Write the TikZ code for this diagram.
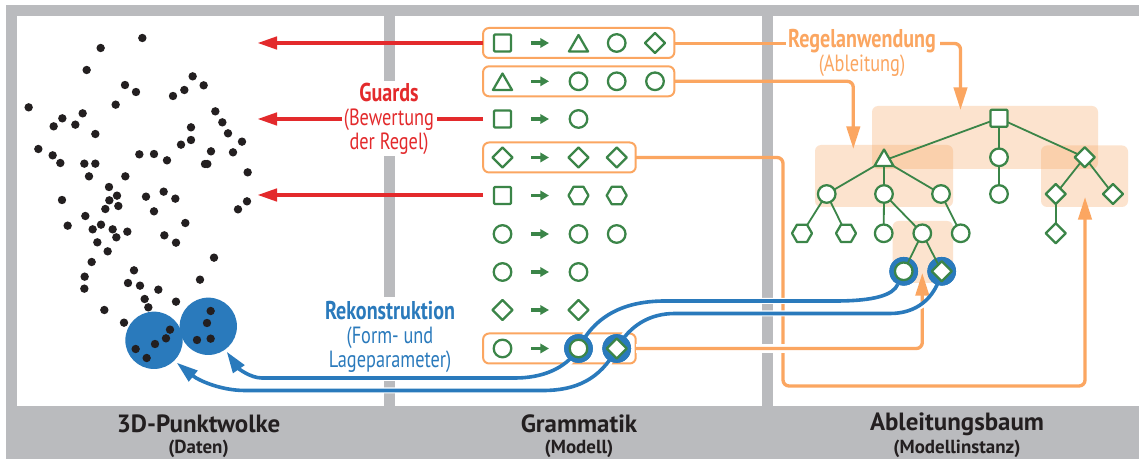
\documentclass[tikz,border=0pt]{standalone}
\usepackage{fontspec}
\usetikzlibrary{shapes.geometric,arrows.meta}
\setmainfont{PT Sans}
\newfontfamily\condf[FakeStretch=0.78]{PT Sans}
\definecolor{frameg}{HTML}{BABBBE}
\definecolor{peach}{HTML}{F7A560}
\definecolor{orangeL}{HTML}{FBA661}
\definecolor{redL}{HTML}{E32A2C}
\definecolor{blueL}{HTML}{2A7ABC}
\definecolor{greenL}{HTML}{3B8548}
\definecolor{inkD}{HTML}{231F20}
\tikzset{
  every node/.style={inner sep=0pt,outer sep=0pt},
  panel/.style={fill=white,draw=none},
  peachbox/.style={fill=peach,fill opacity=0.3,draw=none,rounded corners=4.5pt},
  gshape/.style={draw=greenL,line width=1.7pt,fill=white,line join=round},
  csq/.style={gshape,rectangle,rounded corners=0.8pt,minimum size=12.8pt},
  cci/.style={gshape,circle,minimum size=13.2pt},
  cdi/.style={gshape,diamond,minimum size=15pt},
  ctr/.style={gshape,regular polygon,regular polygon sides=3,minimum size=16.5pt},
  chx/.style={gshape,regular polygon,regular polygon sides=6,minimum size=15pt},
  rulebox/.style={draw=orangeL,line width=1.5pt,rounded corners=4.5pt,fill=white,minimum height=22.5pt},
  redarrow/.style={draw=redL,line width=3.2pt,-{Triangle[length=15pt,width=9pt,fill=redL]}},
  redline/.style={draw=redL,line width=3.2pt},
  orangearrow/.style={draw=orangeL,line width=2.5pt,rounded corners=4.5pt,-{Triangle[length=17pt,width=10pt,fill=orangeL]}},
  orangeline/.style={draw=orangeL,line width=2.5pt},
  bluearrow/.style={draw=blueL,line width=2.7pt,-{Triangle[length=16pt,width=10pt,fill=blueL]}},
  blueline/.style={draw=blueL,line width=2.7pt},
  halo/.style={draw=white,line width=4.5pt},
  ring/.style={circle,fill=blueL,minimum size=21.5pt},
  blob/.style={circle,fill=blueL,minimum size=43pt},
  dot/.style={circle,fill=inkD,minimum size=6.3pt},
  edge/.style={draw=greenL,line width=1.35pt},
  ruleto/.style={draw=greenL,line width=2.4pt,-{Triangle[length=6.5pt,width=7pt,fill=greenL]}},
  headtxt/.style={font=\fontsize{18.7}{20}\selectfont\bfseries,text=inkD,anchor=center},
  subtxt/.style={font=\fontsize{14.2}{16}\selectfont\bfseries,text=inkD,anchor=center},
}
\begin{document}
\begin{tikzpicture}[x=0.75pt,y=-0.75pt]
\useasboundingbox (0,0) rectangle (1139,459);
% frame and panels
\fill[white] (0,0) rectangle (1139,459);
\fill[frameg] (6,5) rectangle (1139,459);
\fill[panel] (17,16) rectangle (384,406);
\fill[panel] (395,16) rectangle (762,406);
\fill[panel] (773,16) rectangle (1139,406);
\fill[panel] (383,81) rectangle (396,156);
\fill[panel] (383,297) rectangle (396,380);
% peach areas
\fill[peachbox] (872,106) rectangle (1098,169);
\fill[peachbox] (815,145) rectangle (953,207);
\fill[peachbox] (1041,145.5) rectangle (1128,207);
\fill[peachbox] (892.5,221) rectangle (953,283);
% captions
\node[headtxt] (t1) at (198.5,424) {3D-Punktwolke};
\node[subtxt] (s1) at (198.5,449) {(Daten)};
\node[headtxt] (t2) at (579,424) {Grammatik};
\node[subtxt] (s2) at (579,449) {(Modell)};
\node[headtxt] (t3) at (957,424) {Ableitungsbaum};
\node[subtxt] (s3) at (957,449) {(Modellinstanz)};
% rule boxes
\node[rulebox,minimum width=143.5pt] (b1) at (578.7,43) {};
\node[rulebox,minimum width=143.5pt] (b2) at (578.7,81.3) {};
\node[rulebox,minimum width=114.5pt] (b4) at (559.4,157.5) {};
\node[rulebox,minimum width=114.5pt] (b9) at (559.4,348.5) {};
% labels
\node[text=redL,align=center,font=\fontsize{17.6}{18}\selectfont\condf] (guards) at (389,119) {{\fontsize{19.3}{18}\selectfont\bfseries Guards}\\(Bewertung\\der Regel)};
\node[text=blueL,align=center,font=\fontsize{17.6}{18}\selectfont\condf] (rekon) at (390,336.5) {{\fontsize{19.3}{18}\selectfont\bfseries Rekonstruktion}\\(Form- und\\Lageparameter)};
\node[text=orangeL,align=center,font=\fontsize{17.6}{18}\selectfont\condf] (regel) at (862,53) {{\fontsize{19.3}{18}\selectfont\bfseries Regelanwendung}\\(Ableitung)};
% free ends
\coordinate (rt1) at (257,43);
\coordinate (rt2) at (257,119);
\coordinate (rt3) at (257,195);
\coordinate (rs3) at (483,195);
\coordinate (rs2) at (483,119);
\coordinate (rm2a) at (342,119);
\coordinate (rm2b) at (437,119);
\coordinate (olA) at (786,43.5);
\coordinate (olB) at (940,43.5);
\coordinate (otip1) at (960.5,110);
\coordinate (otip2) at (853.3,149);
\coordinate (otip3) at (1085,197);
\coordinate (otip4) at (922.3,273);
% red arrows
\draw[redarrow] (b1.west) -- (rt1);
\draw[redarrow] (rm2a) -- (rt2);
\draw[redline] (rs2) -- (rm2b);
\draw[redarrow] (rs3) -- (rt3);
% orange links
\draw[orangeline] (b1.east |- 0,43.5) -- (olA);
\draw[orangearrow] (olB) -- (olB -| otip1) -- (otip1);
\draw[orangearrow] (b2.east) -- (otip2 |- b2.east) -- (otip2);
\draw[orangearrow] (b4.east) -- (783,157.5) -- (783,386) -- (1085,386) -- (otip3);
\draw[white,line width=6.8pt] (b9.east) -- (915,348.5);
\draw[orangearrow] (b9.east) -- (otip4 |- b9.east) -- (otip4);
% dots
\foreach \i/\zx/\zy in {1/427/114,2/302/144,3/260/210,4/375/255,5/408/276,6/347/314,7/86/322,8/248/340,9/187/355,10/161/379,11/226/374,12/286/402,13/115/447,14/158/466,15/181/489,16/253/491,17/286/491,18/267/529,19/376/529,20/418/463,21/462/462,22/501/481,23/543/434,24/573/420,25/573/382,26/519/288,27/553/270,28/578/229,29/611/256,30/646/334,31/667/367,32/684/400,33/726/425,34/699/457,35/633/454,36/615/492,37/622/492,38/743/517,39/741/604,40/714/628,41/327/561,42/351/587,43/328/601,44/355/618,45/316/627,46/186/600,47/256/648,48/203/677,49/303/674,50/338/688,51/382/695,52/278/688,53/438/590,54/491/575,55/526/596,56/462/634,57/556/669,58/292/727,59/349/712,60/323/754,61/493/706,62/528/728,63/642/773,64/275/786,65/402/811,66/254/830,67/253/866,68/384/849,69/420/857,70/475/869,71/600/839,72/434/897,73/445/922,74/528/905,75/313/930,76/372/968}
  {\node[dot] (d\i) at ({\zx/3},{\zy/3}) {};}
% blobs
\node[blob] (blobA) at (154,340.3) {};
\node[blob] (blobB) at (208.3,326.3) {};
\foreach \i/\zx/\zy in {77/632/243,78/621/279,79/591/330,80/632/326,81/510/299,82/498/325,83/465/342,84/407/357,85/440/384}
  {\node[dot] (d\i) at ({\zx/3},{230+\zy/3}) {};}
\coordinate (btipB) at (226.7,351.7);
\coordinate (btipA) at (176.7,362.7);
% rings
\node[ring] (rgA) at (578.5,348.5) {};
\node[ring] (rgB) at (616.7,348.5) {};
\node[ring] (rtA) at (903.7,271.3) {};
\node[ring] (rtB) at (941.7,271.3) {};
% blue links
\draw[halo] (rtA) .. controls (893,295) and (875,301) .. (835,301) -- (665,301) .. controls (625,301) and (595,315) .. (rgA);
\draw[blueline] (rtA) .. controls (893,295) and (875,301) .. (835,301) -- (665,301) .. controls (625,301) and (595,315) .. (rgA.center);
\draw[halo] (rgA) .. controls (565,370) and (540,378) .. (515,378) -- (262,378);
\draw[bluearrow] (rgA.center) .. controls (565,370) and (540,378) .. (515,378) -- (262,378) .. controls (250,378) and (238,368) .. (btipB);
\draw[halo] (rtB) .. controls (935,300) and (915,313.5) .. (890,313.5) -- (675,313.5) .. controls (650,313.5) and (630,325) .. (rgB);
\draw[blueline] (rtB.center) .. controls (935,300) and (915,313.5) .. (890,313.5) -- (675,313.5) .. controls (650,313.5) and (630,325) .. (rgB.center);
\draw[halo] (rgB) .. controls (600,380) and (575,390.5) .. (543,390.5) -- (245,390.5);
\draw[bluearrow] (rgB.center) .. controls (600,380) and (575,390.5) .. (543,390.5) -- (245,390.5) .. controls (220,390.5) and (198,380) .. (btipA);
\node[ring] at (rgA) {};
\node[ring] at (rgB) {};
\node[ring] at (rtA) {};
\node[ring] at (rtB) {};
% grammar symbols
\foreach \n/\s/\x/\y in {
 a1/csq/502.5/43, a2/ctr/578.5/46, a3/cci/616.7/43, a4/cdi/655/43,
 e1/ctr/502.5/84.5, e2/cci/578.5/81.3, e3/cci/616.7/81.3, e4/cci/655/81.3,
 f1/csq/502.5/119, f2/cci/578.5/119,
 g1/cdi/502.5/157.5, g2/cdi/578.5/157.5, g3/cdi/616.7/157.5,
 h1/csq/502.5/195.5, h2/chx/578.5/195.5, h3/chx/616.7/195.5,
 i1/cci/502.5/234, i2/cci/578.5/234, i3/cci/616.7/234,
 j1/cci/502.5/272, j2/cci/578.5/272,
 k1/cdi/502.5/310, k2/cdi/578.5/310,
 l1/cci/502.5/348.5, l2/cci/578.5/348.5, l3/cdi/616.7/348.5}
 {\node[\s] (\n) at (\x,\y) {};}
\foreach \r/\y in {1/43,2/81.3,3/119,4/157.5,5/195.5,6/234,7/272,8/310,9/348.5}
 {\coordinate (ars\r) at (531,\y); \coordinate (are\r) at (549,\y);
  \draw[ruleto] (ars\r) -- (are\r);}
% tree nodes
\foreach \n/\s/\x/\y in {
 root/csq/999/118.3,
 n1/ctr/884/160.5, n2/cci/999/157.3, n3/cdi/1084.7/157.3,
 m1/cci/826.7/194, m2/cci/884/194, m3/cci/941/194, m4/cci/999/194, m5/cdi/1055.7/194, m6/cdi/1113/194,
 p1/chx/802/233.3, p2/chx/846/233.3, p3/cci/883.7/233.3, p4/cci/922.3/233.3, p5/cci/960.7/233.3, p6/cdi/1055.7/233.3,
 q1/cci/903.7/271.3, q2/cdi/941.7/271.3}
 {\node[\s] (\n) at (\x,\y) {};}
\foreach \a/\b in {root/n1,root/n2,root/n3,n1/m1,n1/m2,n1/m3,n2/m4,n3/m5,n3/m6,m1/p1,m1/p2,m2/p3,m2/p4,m3/p5,m5/p6,p4/q1,p4/q2}
 {\draw[edge] (\a) -- (\b);}
\end{tikzpicture}
\end{document}
